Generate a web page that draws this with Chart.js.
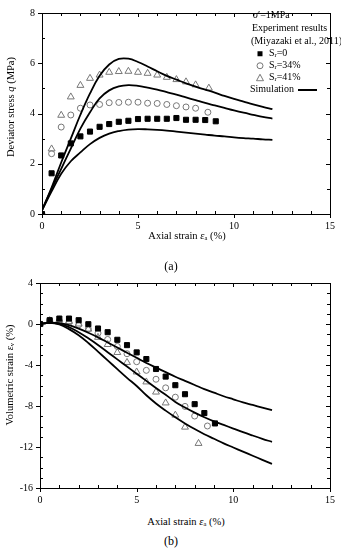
<!DOCTYPE html>
<html>
<head>
<meta charset="utf-8">
<script src="https://cdn.jsdelivr.net/npm/chart.js@4/dist/chart.umd.min.js"></script>
<style>
  body { margin: 0; background: #fff; }
  #wrap { position: relative; width: 341px; height: 550px; font-family: "Liberation Serif", serif; color: #000; }
  canvas { position: absolute; left: 0; }
  .t { position: absolute; white-space: nowrap; font-size: 10.5px; line-height: 1; }
  .rot { transform: translate(-50%, -50%) rotate(-90deg); }
  .ctr { transform: translate(-50%, -50%); }
  .leg { position: absolute; white-space: nowrap; font-size: 10px; line-height: 1; transform: translateY(-50%); }
  sub { font-size: 6.5px; vertical-align: -1px; }
  .cap { font-size: 12px; }
</style>
</head>
<body>
<div id="wrap">
  <canvas id="chartA" width="341" height="232" style="top:0"></canvas>
  <canvas id="chartB" width="341" height="236" style="top:270px"></canvas>

  <div class="t rot" style="left:11px; top:107px">Deviator stress <i>q</i> (MPa)</div>
  <div class="t ctr" style="left:187px; top:236px">Axial strain <i>ε</i><sub>a</sub> (%)</div>
  <div class="t ctr cap" style="left:171px; top:266px">(a)</div>

  <div class="t rot" style="left:10px; top:375px">Volumetric strain <i>ε</i><sub>v</sub> (%)</div>
  <div class="t ctr" style="left:186px; top:522px">Axial strain <i>ε</i><sub>a</sub> (%)</div>
  <div class="t ctr cap" style="left:171px; top:541px">(b)</div>

  <div class="leg" style="left:253px; top:15px"><i>σ</i>′=1MPa</div>
  <div class="leg" style="left:252px; top:28px">Experiment results</div>
  <div class="leg" style="left:251px; top:41px">(Miyazaki et al., 2011)</div>
  <div class="leg" style="left:256px; top:53px"><svg width="8" height="8" style="vertical-align:middle"><rect x="1.5" y="1.5" width="5" height="5" fill="#000"/></svg>&nbsp;&nbsp;S<sub>r</sub>=0</div>
  <div class="leg" style="left:256px; top:65px"><svg width="8" height="8" style="vertical-align:middle"><circle cx="4" cy="4" r="3" fill="none" stroke="#777" stroke-width="1"/></svg>&nbsp;&nbsp;S<sub>r</sub>=34%</div>
  <div class="leg" style="left:256px; top:77px"><svg width="8" height="8" style="vertical-align:middle"><polygon points="4,0.5 7.5,7 0.5,7" fill="none" stroke="#777" stroke-width="1"/></svg>&nbsp;&nbsp;S<sub>r</sub>=41%</div>
  <div class="leg" style="left:250px; top:89px">Simulation <svg width="22" height="4" style="vertical-align:middle"><line x1="2" y1="2" x2="21" y2="2" stroke="#000" stroke-width="2"/></svg></div>
</div>

<script>
// (a) deviator stress vs axial strain, experiment (Miyazaki et al., 2011)
const xSr0  = [0, 0.5, 1, 1.5, 2, 2.5, 3, 3.5, 4, 4.5, 5, 5.5, 6, 6.5, 7, 7.5, 8, 8.5, 9.05];
const qSr0  = [0, 1.62, 2.33, 2.81, 3.09, 3.28, 3.47, 3.58, 3.67, 3.71, 3.78, 3.79, 3.79, 3.79, 3.82, 3.75, 3.75, 3.74, 3.69];
const xSr34 = [0, 0.5, 1, 1.5, 2, 2.5, 3, 3.5, 4, 4.5, 5, 5.5, 6, 6.5, 7, 7.5, 8, 8.64];
const qSr34 = [0, 2.40, 3.46, 3.94, 4.21, 4.34, 4.36, 4.43, 4.44, 4.45, 4.45, 4.41, 4.40, 4.36, 4.31, 4.26, 4.21, 4.05];
const xSr41 = [0.5, 1, 1.5, 2, 2.5, 3, 3.5, 4, 4.5, 5, 5.5, 6, 6.5, 7, 7.5, 8, 8.69];
const qSr41 = [2.59, 3.93, 4.66, 5.12, 5.40, 5.53, 5.64, 5.67, 5.68, 5.64, 5.60, 5.53, 5.44, 5.35, 5.26, 5.14, 5.01];

// simulation curves
const simX  = [0, 0.5, 1, 1.5, 2, 2.5, 3, 3.5, 4, 4.5, 5, 5.5, 6, 6.5, 7, 7.5, 8, 8.5, 9, 9.5, 10, 10.5, 11, 11.5, 12];
const qSim1 = [0.15, 1.05, 2.05, 3.0, 3.95, 4.8, 5.5, 5.95, 6.17, 6.18, 6.05, 5.87, 5.68, 5.5, 5.35, 5.2, 5.07, 4.95, 4.83, 4.7, 4.58, 4.47, 4.36, 4.26, 4.17];
const qSim2 = [0.15, 1.0, 1.8, 2.6, 3.4, 4.05, 4.6, 4.92, 5.08, 5.13, 5.1, 5.03, 4.95, 4.85, 4.75, 4.64, 4.53, 4.42, 4.32, 4.22, 4.12, 4.03, 3.95, 3.87, 3.8];
const qSim3 = [0.15, 0.9, 1.6, 2.1, 2.45, 2.78, 3.03, 3.2, 3.3, 3.36, 3.38, 3.37, 3.35, 3.32, 3.28, 3.24, 3.2, 3.16, 3.12, 3.09, 3.05, 3.02, 3.0, 2.97, 2.95];

// (b) volumetric strain vs axial strain
const evSr0  = [0, 0.37, 0.53, 0.53, 0.37, -0.02, -0.44, -0.8, -1.54, -2.06, -2.77, -3.42, -4.39, -5.13, -5.97, -6.85, -7.82, -8.69, -9.7];
const xSr34b = [0, 0.5, 1, 1.5, 2, 2.5, 3, 3.5, 4, 4.5, 5, 5.5, 6, 6.5, 7, 7.5, 8, 8.66];
const evSr34 = [0, 0.34, 0.3, 0.15, -0.08, -0.47, -0.89, -1.51, -2.19, -2.9, -3.68, -4.52, -5.39, -6.23, -7.14, -8.04, -8.98, -9.95];
const xSr41b = [0, 0.5, 1, 1.5, 2, 2.5, 3, 3.5, 4, 4.5, 5, 5.5, 6, 6.5, 7, 7.5, 8.2];
const evSr41 = [0, 0.33, 0.4, 0.25, 0.0, -0.5, -1.3, -2.0, -2.78, -3.75, -4.68, -5.65, -6.64, -7.7, -8.89, -10.06, -11.65];

const evSim1 = [0, 0.12, 0.08, -0.12, -0.45, -0.85, -1.3, -1.8, -2.3, -2.8, -3.3, -3.8, -4.25, -4.7, -5.15, -5.55, -5.95, -6.35, -6.7, -7.05, -7.35, -7.65, -7.9, -8.15, -8.4];
const evSim2 = [0, 0.12, 0.02, -0.3, -0.8, -1.4, -2.05, -2.75, -3.45, -4.15, -4.85, -5.55, -6.25, -6.9, -7.6, -8.15, -8.65, -9.1, -9.5, -9.85, -10.2, -10.55, -10.88, -11.2, -11.5];
const evSim3 = [0, 0.1, -0.05, -0.5, -1.1, -1.85, -2.7, -3.55, -4.4, -5.25, -6.05, -6.95, -7.75, -8.45, -9.1, -9.7, -10.25, -10.75, -11.2, -11.65, -12.05, -12.45, -12.85, -13.25, -13.64];

const xTicks = [0, 5, 10, 15];

Chart.defaults.font.family = '"Liberation Serif", serif';
Chart.defaults.font.size = 10;
Chart.defaults.color = '#000';

function pts(xs, ys) {
  return xs.map((x, i) => ({x: x, y: ys[i]}));
}

// frame box plus ticks on all four sides (major outward on left/bottom, rest inward)
const frameTicks = {
  id: 'frameTicks',
  afterDraw(chart, args, opts) {
    const ctx = chart.ctx;
    const a = chart.chartArea;
    const xs = chart.scales.x, ys = chart.scales.y;
    ctx.save();
    ctx.strokeStyle = '#000';
    ctx.lineWidth = 1;
    ctx.strokeRect(Math.round(a.left) + 0.5, Math.round(a.top) + 0.5,
      Math.round(a.right - a.left), Math.round(a.bottom - a.top));
    ctx.beginPath();
    xs.ticks.forEach(t => {
      const p = Math.round(xs.getPixelForValue(t.value)) + 0.5;
      const major = t.value % opts.xMajor === 0;
      if (major) {
        ctx.moveTo(p, a.bottom); ctx.lineTo(p, a.bottom + 4);
        ctx.moveTo(p, a.top); ctx.lineTo(p, a.top + 4);
      } else {
        ctx.moveTo(p, a.bottom); ctx.lineTo(p, a.bottom - 3);
        ctx.moveTo(p, a.top); ctx.lineTo(p, a.top + 3);
      }
    });
    ys.ticks.forEach(t => {
      const p = Math.round(ys.getPixelForValue(t.value)) + 0.5;
      const major = t.value % opts.yMajor === 0;
      if (major) {
        ctx.moveTo(a.left, p); ctx.lineTo(a.left - 4, p);
        ctx.moveTo(a.right, p); ctx.lineTo(a.right - 4, p);
      } else {
        ctx.moveTo(a.left, p); ctx.lineTo(a.left + 3, p);
        ctx.moveTo(a.right, p); ctx.lineTo(a.right - 3, p);
      }
    });
    ctx.stroke();
    ctx.restore();
  }
};

function expSet(data, style, filled) {
  return {
    type: 'scatter',
    data: data,
    pointStyle: style,
    pointRadius: style === 'rect' ? 3.6 : (style === 'triangle' ? 4 : 3),
    pointBackgroundColor: filled ? '#000' : 'rgba(0,0,0,0)',
    pointBorderColor: filled ? '#000' : '#777',
    pointBorderWidth: 1,
    showLine: false
  };
}

function simSet(data) {
  return {
    type: 'line',
    data: data,
    borderColor: '#000',
    borderWidth: 1.8,
    pointRadius: 0,
    tension: 0.4,
    fill: false
  };
}

function makeChart(id, sets, yMin, yMax, yMajor, yWidth, padTop) {
  return new Chart(document.getElementById(id), {
    type: 'scatter',
    data: { datasets: sets },
    options: {
      responsive: false,
      animation: false,
      events: [],
      layout: { padding: { top: padTop, right: 9, left: 0, bottom: 0 } },
      plugins: {
        legend: { display: false },
        tooltip: { enabled: false },
        frameTicks: { xMajor: 5, yMajor: yMajor }
      },
      scales: {
        x: {
          type: 'linear', min: 0, max: 15,
          grid: { display: false, drawTicks: false },
          border: { display: false },
          ticks: {
            stepSize: 1, autoSkip: false, maxRotation: 0, padding: 6,
            callback: v => xTicks.includes(v) ? String(v) : ''
          },
          afterFit: s => { s.height = 18; }
        },
        y: {
          type: 'linear', min: yMin, max: yMax,
          grid: { display: false, drawTicks: false },
          border: { display: false },
          ticks: {
            stepSize: 1, autoSkip: false, padding: 7,
            callback: v => v % yMajor === 0 ? String(v) : ''
          },
          afterFit: s => { s.width = yWidth; }
        }
      }
    },
    plugins: [frameTicks]
  });
}

makeChart('chartA', [
  simSet(pts(simX, qSim1)),
  simSet(pts(simX, qSim2)),
  simSet(pts(simX, qSim3)),
  expSet(pts(xSr0, qSr0), 'rect', true),
  expSet(pts(xSr34, qSr34), 'circle', false),
  expSet(pts(xSr41, qSr41), 'triangle', false)
], 0, 8, 2, 42, 9);

makeChart('chartB', [
  simSet(pts(simX, evSim1)),
  simSet(pts(simX, evSim2)),
  simSet(pts(simX, evSim3)),
  expSet(pts(xSr0, evSr0), 'rect', true),
  expSet(pts(xSr34b, evSr34), 'circle', false),
  expSet(pts(xSr41b, evSr41), 'triangle', false)
], -16, 4, 4, 40, 12);
</script>
</body>
</html>
